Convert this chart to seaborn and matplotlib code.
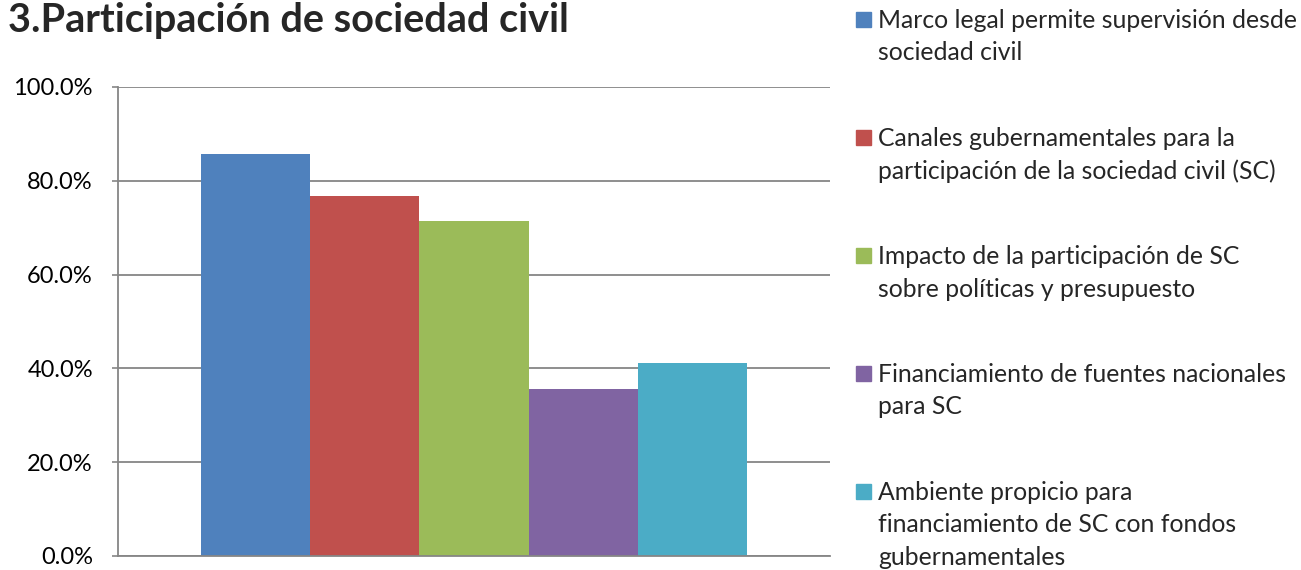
import pandas as pd
import seaborn as sns
import matplotlib.pyplot as plt
from matplotlib.patches import Rectangle
from matplotlib.ticker import FuncFormatter

# data
categories = ["Participación de sociedad civil"]
series = [
    "Marco legal permite supervisión desde\nsociedad civil",
    "Canales gubernamentales para la\nparticipación de la sociedad civil (SC)",
    "Impacto de la participación de SC\nsobre políticas y presupuesto",
    "Financiamiento de fuentes nacionales\npara SC",
    "Ambiente propicio para\nfinanciamiento de SC con fondos\ngubernamentales",
]
values = [85.7, 76.7, 71.4, 35.7, 41.2]
colors = ["#4F81BD", "#C0504D", "#9BBB59", "#8064A2", "#4BACC6"]
yticks = [0, 20, 40, 60, 80, 100]

df = pd.DataFrame({"cat": categories * len(series), "serie": series, "valor": values})

sns.set_style("white")
plt.rcParams["font.family"] = ["Lato", "DejaVu Sans"]

fig = plt.figure(figsize=(13.01, 5.70), dpi=100)
ax = fig.add_axes([118 / 1301, 1 - 556 / 570, 712 / 1301, 469 / 570])

sns.barplot(data=df, x="cat", y="valor", hue="serie", palette=colors,
            width=0.768, gap=0, saturation=1, dodge=True, legend=False,
            linewidth=0, ax=ax)

ax.set_ylim(0, 100)
ax.set_xlim(-0.5, 0.5)
ax.set_yticks(yticks)
ax.yaxis.set_major_formatter(FuncFormatter(lambda v, p: f"{v:.1f}%"))
ax.set_xticks([])
ax.set_xlabel("")
ax.set_ylabel("")
ax.tick_params(axis="y", labelsize=17, colors="#868686", labelcolor="black",
               length=4, width=1.2, pad=14, left=True)
ax.grid(axis="y", color="#868686", linewidth=1.3)
ax.set_axisbelow(True)
for side in ["top", "right"]:
    ax.spines[side].set_visible(False)
for side in ["left", "bottom"]:
    ax.spines[side].set_color("#868686")
    ax.spines[side].set_linewidth(1.3)

fig.text(8 / 1301, 1 - 32 / 570, "3.Participación de sociedad civil",
         fontsize=28.5, fontweight="bold", ha="left", va="baseline")

# legend on the right, handle aligned with first line of each label
top = 1 - 20 / 570
step = 118 / 570
for i, (lab, col) in enumerate(zip(series, colors)):
    y = top - i * step
    fig.patches.append(Rectangle((856 / 1301, y - 7 / 570), 15 / 1301, 15 / 570,
                                 transform=fig.transFigure, color=col, figure=fig))
    fig.text(878 / 1301, y + 11 / 570, lab, fontsize=17.8, ha="left", va="top",
             linespacing=1.5)

plt.savefig("out.png", dpi=100)
